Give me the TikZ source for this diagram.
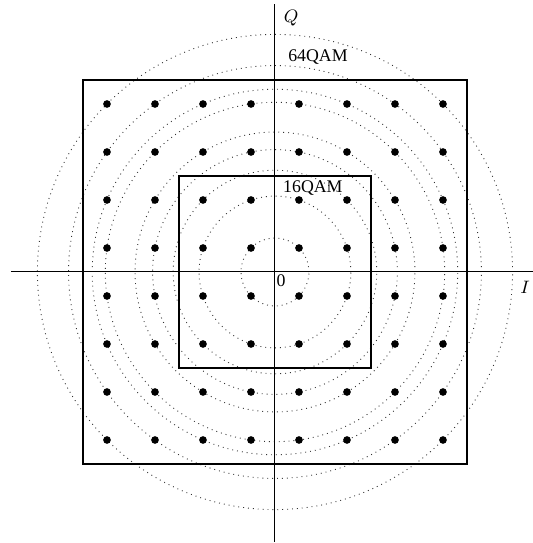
\documentclass[tikz,border=0pt]{standalone}
\usepackage{fontspec}
\setmainfont{Liberation Serif}
\begin{document}
\begin{tikzpicture}[x=12pt, y=12pt, every node/.style={font=\fontsize{8.9pt}{10pt}\selectfont, inner sep=0pt}]
\useasboundingbox (-11.458,-11.292) rectangle (10.75,11.333);
% rings through the constellation points
\foreach \r in {2,10,18,26,34,50,58,74,98} \draw[dotted, line width=0.45pt, black!80] (0,0) circle ({sqrt(\r)});
% axes
\draw[line width=0.5pt] (-11.0,0)--(10.75,0);
\draw[line width=0.5pt] (0,-11.25)--(0,11.17);
\node (qlab) at (0.67,10.58) {$Q$};
\node (ilab) at (10.42,-0.63) {$I$};
\node (orig) at (0.25,-0.36) {0};
% constellation boxes
\draw[line width=0.75pt] (-8,-8) rectangle (8,8);
\draw[line width=0.75pt] (-4,-4) rectangle (4,4);
\node (qam64) at (1.79,8.96) {64QAM};
\node (qam16) at (1.58,3.5) {16QAM};
% points
\foreach \x in {-7,-5,...,7} \foreach \y in {-7,-5,...,7} \fill (\x,\y) circle (0.16);
\end{tikzpicture}
\end{document}
